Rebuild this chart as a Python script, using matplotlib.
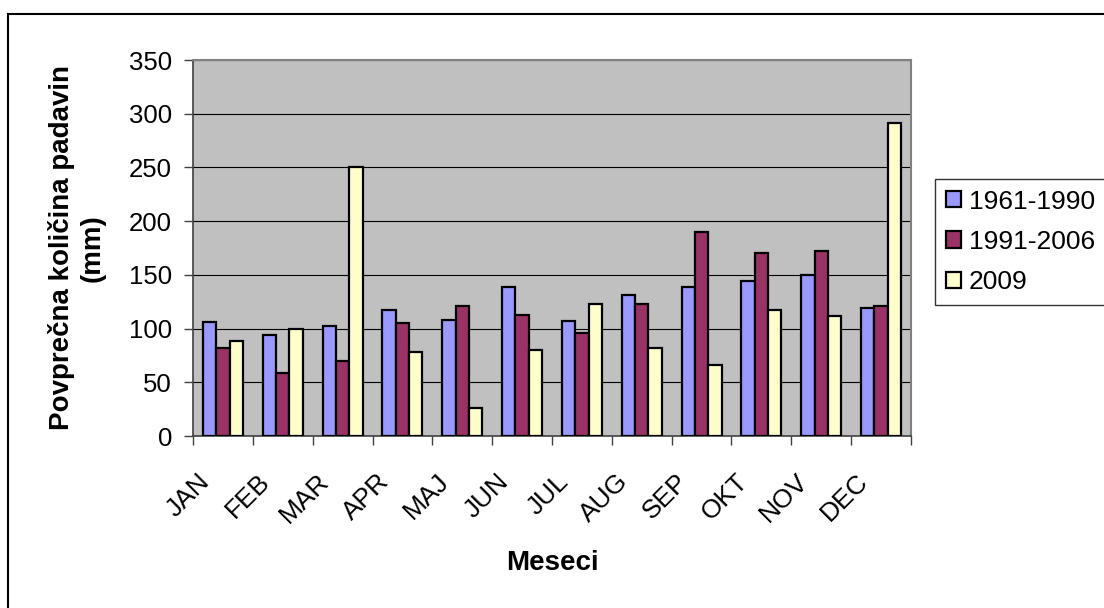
import matplotlib
matplotlib.use("Agg")
import matplotlib.pyplot as plt
import numpy as np
from matplotlib.transforms import ScaledTranslation
from matplotlib.patches import Rectangle

# Monthly precipitation (mm)
months = ["JAN", "FEB", "MAR", "APR", "MAJ", "JUN", "JUL", "AUG", "SEP", "OKT", "NOV", "DEC"]
series_labels = ["1961-1990", "1991-2006", "2009"]
p_1961_1990 = [106, 94, 102, 117, 108, 139, 107, 131, 139, 144, 150, 119]
p_1991_2006 = [82, 59, 70, 105, 121, 113, 96, 123, 190, 170, 172, 121]
p_2009 = [88, 100, 250, 78, 26, 80, 123, 82, 66, 117, 112, 291]
y_ticks = [0, 50, 100, 150, 200, 250, 300, 350]

colors = ["#9999FF", "#993366", "#FFFFCC"]

plt.rcParams["font.family"] = ["Liberation Sans", "DejaVu Sans"]

W, H = 1104, 608
fig = plt.figure(figsize=(W / 100, H / 100), dpi=100)
fig.patch.set_facecolor("white")

# plot area in pixel terms
left, right, top, bottom = 193, 911, 60, 436
ax = fig.add_axes([left / W, 1 - bottom / H, (right - left) / W, (bottom - top) / H])
ax.set_facecolor("#C0C0C0")

x = np.arange(len(months))
w = 1 / 4.5
for k, (vals, lab, col) in enumerate(zip([p_1961_1990, p_1991_2006, p_2009], series_labels, colors)):
    ax.bar(x + (k - 1) * w, vals, width=w, color=col, edgecolor="black",
           linewidth=1.6, label=lab, zorder=3)

ax.set_xlim(-0.5, len(months) - 0.5)
ax.set_ylim(0, 350)
ax.set_yticks(y_ticks)
ax.set_yticklabels([str(v) for v in y_ticks], fontsize=18.5)
ax.yaxis.grid(True, color="black", linewidth=0.8, zorder=1)
ax.set_axisbelow(True)

ax.set_xticks(x)
ax.set_xticklabels(months, rotation=45, ha="right", va="center",
                   rotation_mode="anchor", fontsize=19)
ax.set_xticks(np.arange(-0.5, len(months), 1), minor=True)
ax.tick_params(axis="x", which="major", length=0, pad=42 * 0.72)
ax.tick_params(axis="x", which="minor", length=9 * 0.72, width=1.0,
               color="#404040", direction="out")
ax.tick_params(axis="y", length=9 * 0.72, width=1.0, color="#404040",
               pad=12 * 0.72)
shift = ScaledTranslation(-17 / 100, 0, fig.dpi_scale_trans)
for lbl in ax.get_xticklabels():
    lbl.set_transform(lbl.get_transform() + shift)

for side in ["top", "right"]:
    ax.spines[side].set_color("#808080")
    ax.spines[side].set_linewidth(1.5)
for side in ["left", "bottom"]:
    ax.spines[side].set_color("#404040")
    ax.spines[side].set_linewidth(1.2)

ax.set_xlabel("Meseci", fontsize=20, fontweight="bold", va="center")
ax.xaxis.set_label_coords(0.5, (bottom - 563) / (bottom - top))
ax.set_ylabel("Povprečna količina padavin\n(mm)", fontsize=20, fontweight="bold",
              va="center", ha="center", multialignment="center", linespacing=1.25)
ax.yaxis.set_label_coords((77 - left) / (right - left), 0.5)

leg = ax.legend(loc="upper left", bbox_to_anchor=(935 / W, 1 - 179 / H),
                bbox_transform=fig.transFigure, frameon=True, fancybox=False,
                edgecolor="black", fontsize=19, handlelength=0.58, handleheight=0.58,
                handletextpad=0.3, borderpad=0.4, labelspacing=0.62, borderaxespad=0)
leg.get_frame().set_linewidth(1.0)

# chart frame
fig.add_artist(Rectangle((8 / W, -0.05), 1.1, 1 - 14 / H + 0.05,
                         transform=fig.transFigure, fill=False,
                         edgecolor="black", linewidth=1.5))

fig.savefig("out.png", dpi=100)
